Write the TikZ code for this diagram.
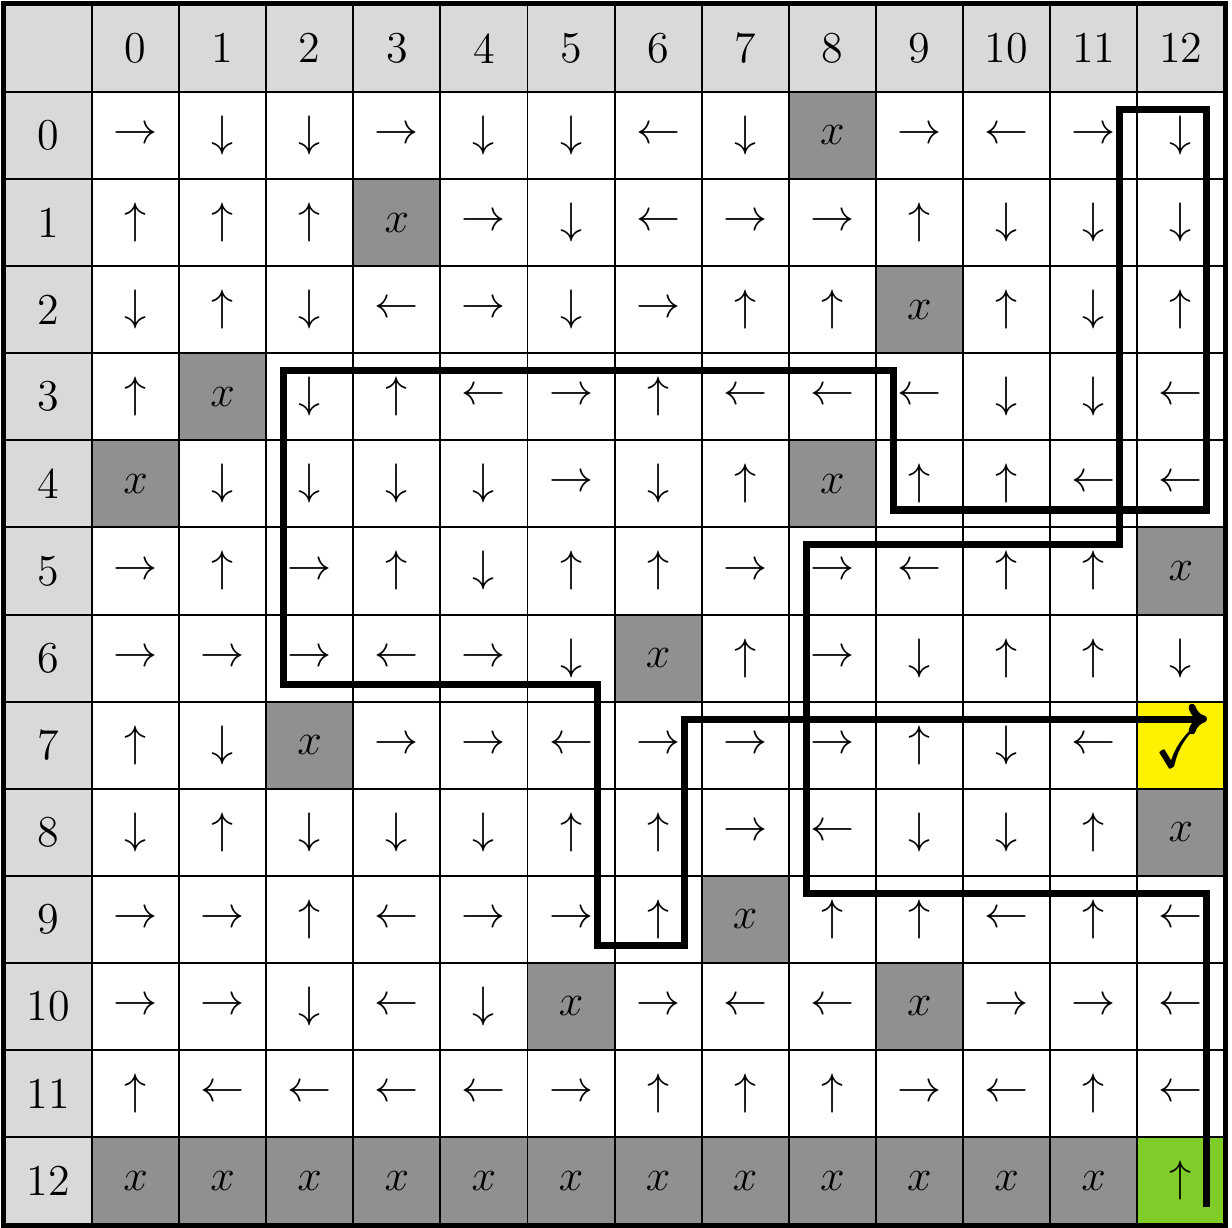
\documentclass[tikz,border=0pt]{standalone}
\usepackage{amsmath}
\usepackage{amssymb}
\usepackage{tikz}
\usetikzlibrary{matrix, arrows.meta, calc}

\definecolor{blockgray}{RGB}{145,144,145}
\definecolor{goalgreen}{RGB}{128,204,40}

\newcommand{\goR}{$\rightarrow$}
\newcommand{\goL}{$\leftarrow$}
\newcommand{\goU}{$\uparrow$}
\newcommand{\goD}{$\downarrow$}

\begin{document}
\begin{tikzpicture}[line width=0.65pt,
        hd/.style={fill=black!15},
        blk/.style={fill=blockgray},
        route/.style={line width=2.3pt, black}]
        \useasboundingbox (-7.056,-7.034) rectangle (7.088,7.055);
        \matrix (A) [matrix of nodes, nodes in empty cells,
            nodes={draw, minimum size=1cm, inner sep=0pt, anchor=center, font=\Large},
            column sep=-\pgflinewidth, row sep=-\pgflinewidth]{
                |[hd]| & |[hd]|0 & |[hd]|1 & |[hd]|2 & |[hd]|3 & |[hd]|4 & |[hd]|5 & |[hd]|6 & |[hd]|7 & |[hd]|8 & |[hd]|9 & |[hd]|10 & |[hd]|11 & |[hd]|12\\
                |[hd]|0 & \goR & \goD & \goD & \goR & \goD & \goD & \goL & \goD & |[blk]|$x$ & \goR & \goL & \goR & \goD\\
                |[hd]|1 & \goU & \goU & \goU & |[blk]|$x$ & \goR & \goD & \goL & \goR & \goR & \goU & \goD & \goD & \goD\\
                |[hd]|2 & \goD & \goU & \goD & \goL & \goR & \goD & \goR & \goU & \goU & |[blk]|$x$ & \goU & \goD & \goU\\
                |[hd]|3 & \goU & |[blk]|$x$ & \goD & \goU & \goL & \goR & \goU & \goL & \goL & \goL & \goD & \goD & \goL\\
                |[hd]|4 & |[blk]|$x$ & \goD & \goD & \goD & \goD & \goR & \goD & \goU & |[blk]|$x$ & \goU & \goU & \goL & \goL\\
                |[hd]|5 & \goR & \goU & \goR & \goU & \goD & \goU & \goU & \goR & \goR & \goL & \goU & \goU & |[blk]|$x$\\
                |[hd]|6 & \goR & \goR & \goR & \goL & \goR & \goD & |[blk]|$x$ & \goU & \goR & \goD & \goU & \goU & \goD\\
                |[hd]|7 & \goU & \goD & |[blk]|$x$ & \goR & \goR & \goL & \goR & \goR & \goR & \goU & \goD & \goL & |[fill=yellow, font=\huge]|$\checkmark$\\
                |[hd]|8 & \goD & \goU & \goD & \goD & \goD & \goU & \goU & \goR & \goL & \goD & \goD & \goU & |[blk]|$x$\\
                |[hd]|9 & \goR & \goR & \goU & \goL & \goR & \goR & \goU & |[blk]|$x$ & \goU & \goU & \goL & \goU & \goL\\
                |[hd]|10 & \goR & \goR & \goD & \goL & \goD & |[blk]|$x$ & \goR & \goL & \goL & |[blk]|$x$ & \goR & \goR & \goL\\
                |[hd]|11 & \goU & \goL & \goL & \goL & \goL & \goR & \goU & \goU & \goU & \goR & \goL & \goU & \goL\\
                |[hd]|12 & |[blk]|$x$ & |[blk]|$x$ & |[blk]|$x$ & |[blk]|$x$ & |[blk]|$x$ & |[blk]|$x$ & |[blk]|$x$ & |[blk]|$x$ & |[blk]|$x$ & |[blk]|$x$ & |[blk]|$x$ & |[blk]|$x$ & |[fill=goalgreen]|\goU\\};
        \draw [line width=1.6pt] (A-1-1.north west) rectangle (A-14-14.south east);
        % route from the start cell to the goal
        \draw [route, -{To[length=6pt, width=10pt]}] ($(A-14-14.center)+(0.3,-0.3)$) --++(0,3.6) --++(-4.6,0) --++(0,4)
            --++(3.6,0) --++(0,5) --++(1,0) --++(0,-4.6) --++(-3.6,0) --++(0,1.6)
            --++(-7,0) --++(0,-3.6) --++(3.6,0) --++(0,-3) --++(1,0) --++(0,2.6) --++(6,0);
    \end{tikzpicture}
\end{document}
